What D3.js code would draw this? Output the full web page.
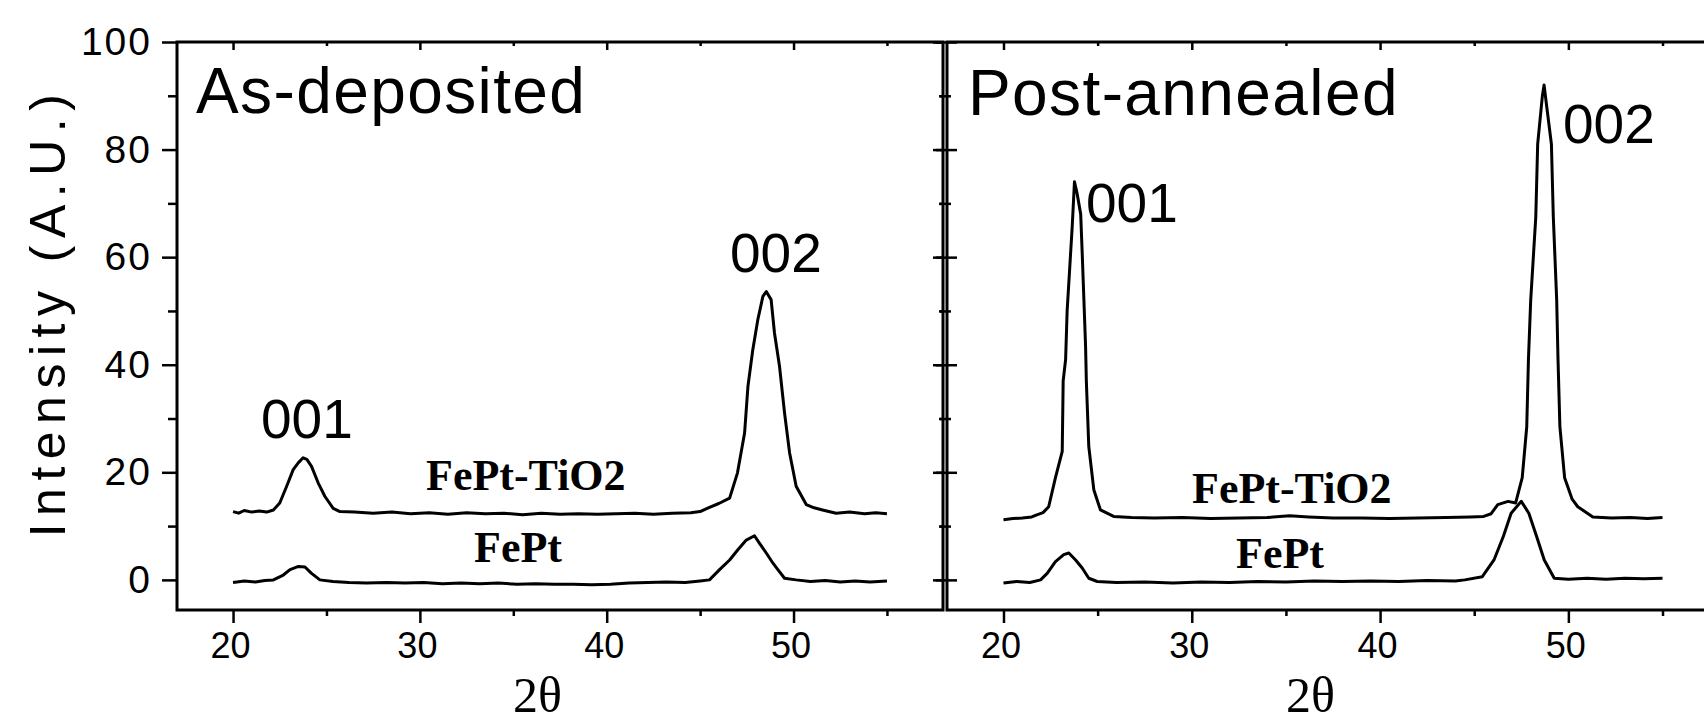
<!DOCTYPE html>
<html>
<head>
<meta charset="utf-8">
<script src="https://d3js.org/d3.v7.min.js"></script>
<style>
body { margin: 0; background: #fff; }
.axis .tick line { stroke: #000; stroke-width: 2.5; }
.frame { fill: none; stroke: #000; stroke-width: 3; }
.curve { fill: none; stroke: #000; stroke-width: 3; stroke-linejoin: round; }
</style>
</head>
<body>
<svg width="1704" height="724"></svg>
<script>

// tick values
var xMajor = [20, 30, 40, 50];
var xMinor = [25, 35, 45, 55];
var yMajor = [0, 20, 40, 60, 80, 100];
var yMinor = [10, 30, 50, 70, 90];

// 2theta, intensity
var asDepTiO2 = [[20.0,12.7],[20.3,12.4],[20.6,12.9],[21.0,12.6],[21.4,12.8],[21.8,12.6],[22.16,13.0],[22.5,14.3],[22.87,17.4],[23.22,20.5],[23.5,21.8],[23.75,22.7],[23.95,22.4],[24.2,21.1],[24.56,18.0],[24.92,15.5],[25.36,13.3],[25.72,12.7],[26.5,12.6],[27.5,12.4],[28.5,12.6],[29.5,12.3],[30.5,12.5],[31.5,12.2],[32.5,12.5],[33.5,12.3],[34.5,12.4],[35.5,12.1],[36.5,12.4],[37.5,12.2],[38.5,12.3],[39.5,12.2],[40.5,12.3],[41.5,12.4],[42.5,12.2],[43.5,12.4],[44.5,12.5],[45.0,12.7],[45.44,13.4],[46.0,14.2],[46.58,15.2],[47.0,19.9],[47.38,27.3],[47.56,36],[47.82,42.8],[48.09,48.4],[48.36,52.7],[48.54,53.6],[48.8,52.1],[48.98,45.9],[49.25,39.7],[49.52,31],[49.79,23.6],[50.14,17.4],[50.68,14],[51.1,13.4],[51.55,13],[52.28,12.4],[53,12.6],[53.8,12.3],[54.4,12.5],[55,12.3]];

var asDepFePt = [[20,-0.5],[20.6,-0.2],[21.2,-0.4],[21.7,-0.1],[22.16,0],[22.69,0.9],[23.05,1.9],[23.5,2.5],[23.85,2.4],[24.2,1.2],[24.65,0],[25.35,-0.3],[26.2,-0.5],[27.15,-0.6],[28.2,-0.5],[29.2,-0.6],[30.2,-0.5],[31.2,-0.7],[32.2,-0.6],[33.2,-0.7],[34.2,-0.6],[35.2,-0.8],[36.2,-0.7],[37.2,-0.8],[38.2,-0.8],[39.2,-0.9],[40.2,-0.8],[41.2,-0.6],[42.2,-0.5],[43.2,-0.4],[44.2,-0.5],[45.0,-0.2],[45.5,0],[46.04,1.9],[46.58,3.7],[47.02,5.6],[47.47,7.4],[47.91,8.2],[48.18,6.8],[48.54,5],[48.9,3.1],[49.16,1.9],[49.52,0.3],[50.14,0],[50.9,-0.3],[51.7,-0.1],[52.5,-0.4],[53.3,-0.2],[54.1,-0.4],[55,-0.2]];

var annTiO2 = [[20,11.2],[20.5,11.4],[21,11.5],[21.5,11.7],[21.7,12.0],[22.1,12.5],[22.4,13.6],[22.76,19],[23.12,23.9],[23.17,37],[23.3,41],[23.38,50],[23.65,65.7],[23.77,74],[23.9,72],[24.1,68],[24.18,60.8],[24.36,43.4],[24.4,37],[24.53,24.8],[24.8,16.7],[25.15,13],[25.85,11.8],[26.8,11.6],[28,11.5],[29.5,11.6],[31,11.4],[32.5,11.5],[34,11.6],[35.2,11.9],[36.2,11.7],[37.5,11.5],[39,11.5],[40.5,11.4],[42,11.5],[43.5,11.6],[44.8,11.7],[45.5,11.8],[45.9,12.3],[46.25,14.0],[46.8,14.6],[47.2,14.3],[47.55,19],[47.79,28.5],[47.88,41],[48.0,52],[48.27,67.5],[48.37,81],[48.62,90],[48.71,92],[48.85,88],[49.1,81],[49.2,67.5],[49.38,52],[49.45,41],[49.55,28.5],[49.8,19],[50.2,15],[50.5,13.6],[51.3,11.7],[52.3,11.5],[53.3,11.6],[54.2,11.4],[55,11.6]];

var annFePt = [[20,-0.6],[20.7,-0.3],[21.4,-0.5],[21.97,0],[22.32,1.2],[22.76,3.4],[23.2,4.7],[23.47,5],[23.83,3.7],[24.18,2.2],[24.53,0.3],[24.98,-0.3],[26,-0.5],[27.5,-0.4],[29,-0.6],[30.5,-0.4],[32,-0.5],[33.5,-0.3],[35,-0.4],[36.5,-0.2],[38,-0.3],[39.5,-0.2],[41,-0.3],[42.5,-0.1],[44,-0.2],[44.5,0],[45.43,0.6],[46.05,3.7],[46.55,8.1],[46.96,12.4],[47.5,14.6],[47.9,12.4],[48.31,8.1],[48.72,3.7],[49.25,0.3],[50,0.1],[51,0.3],[52,0.1],[53,0.3],[54,0.2],[55,0.3]];

var svg = d3.select("svg");

var y = d3.scaleLinear().domain([-5.6, 100]).range([610, 42]);
var xL = d3.scaleLinear().domain([17, 58]).range([177, 943]);
var xR = d3.scaleLinear().domain([17, 58]).range([947, 1719]);

var sans = "'Liberation Sans', Arial, sans-serif";
var serif = "'Liberation Serif', 'Times New Roman', serif";

function noDomain(g) { g.select(".domain").remove(); }

function drawPanel(x, series, first) {
  var x0 = x.range()[0], x1 = x.range()[1];

  svg.append("rect").attr("class", "frame")
    .attr("x", x0).attr("y", y(100))
    .attr("width", x1 - x0).attr("height", y(-5.6) - y(100));

  // bottom axis
  var gb = svg.append("g").attr("class", "axis")
    .attr("transform", "translate(0," + y(-5.6) + ")")
    .call(d3.axisBottom(x).tickValues(xMajor).tickSize(13).tickPadding(9).tickFormat(d3.format("d")))
    .call(noDomain);
  gb.selectAll("text")
    .attr("font-family", sans).attr("font-size", 36).attr("fill", "#000")
    .attr("dx", -3);
  svg.append("g").attr("class", "axis")
    .attr("transform", "translate(0," + y(-5.6) + ")")
    .call(d3.axisBottom(x).tickValues(xMinor).tickSize(6).tickFormat(""))
    .call(noDomain);

  // top axis, inward
  svg.append("g").attr("class", "axis")
    .attr("transform", "translate(0," + y(100) + ")")
    .call(d3.axisTop(x).tickValues(xMajor).tickSize(-8).tickFormat(""))
    .call(noDomain);
  svg.append("g").attr("class", "axis")
    .attr("transform", "translate(0," + y(100) + ")")
    .call(d3.axisTop(x).tickValues(xMinor).tickSize(-4).tickFormat(""))
    .call(noDomain);

  if (first) {
    var gl = svg.append("g").attr("class", "axis")
      .attr("transform", "translate(" + x0 + ",0)")
      .call(d3.axisLeft(y).tickValues(yMajor).tickSize(15).tickPadding(10).tickFormat(d3.format("d")))
      .call(noDomain);
    gl.selectAll("text")
      .attr("font-family", sans).attr("font-size", 39).attr("fill", "#000")
      .attr("letter-spacing", 2);
    svg.append("g").attr("class", "axis")
      .attr("transform", "translate(" + x0 + ",0)")
      .call(d3.axisLeft(y).tickValues(yMinor).tickSize(9).tickFormat(""))
      .call(noDomain);
    // right side of the first panel, inward
    svg.append("g").attr("class", "axis")
      .attr("transform", "translate(" + x1 + ",0)")
      .call(d3.axisRight(y).tickValues(yMajor).tickSize(-7).tickFormat(""))
      .call(noDomain);
    svg.append("g").attr("class", "axis")
      .attr("transform", "translate(" + x1 + ",0)")
      .call(d3.axisRight(y).tickValues(yMinor).tickSize(-4).tickFormat(""))
      .call(noDomain);
  } else {
    // ticks crossing the left edge of the second panel
    svg.append("g").attr("class", "axis")
      .attr("transform", "translate(" + x0 + ",0)")
      .call(d3.axisLeft(y).tickValues(yMajor).tickSize(14).tickFormat(""))
      .call(noDomain);
    svg.append("g").attr("class", "axis")
      .attr("transform", "translate(" + x0 + ",0)")
      .call(d3.axisRight(y).tickValues(yMajor).tickSize(10).tickFormat(""))
      .call(noDomain);
    svg.append("g").attr("class", "axis")
      .attr("transform", "translate(" + x0 + ",0)")
      .call(d3.axisLeft(y).tickValues(yMinor).tickSize(7).tickFormat(""))
      .call(noDomain);
    svg.append("g").attr("class", "axis")
      .attr("transform", "translate(" + x0 + ",0)")
      .call(d3.axisRight(y).tickValues(yMinor).tickSize(4).tickFormat(""))
      .call(noDomain);
  }

  var line = d3.line()
    .x(function(d) { return x(d[0]); })
    .y(function(d) { return y(d[1]); });

  svg.append("g").selectAll("path")
    .data(series)
    .enter().append("path")
    .attr("class", "curve")
    .attr("d", line);
}

drawPanel(xL, [asDepTiO2, asDepFePt], true);
drawPanel(xR, [annTiO2, annFePt], false);

// y title
svg.append("text")
  .attr("transform", "translate(65,312) rotate(-90)")
  .attr("text-anchor", "middle")
  .attr("font-family", sans).attr("font-size", 50)
  .attr("letter-spacing", 7.5)
  .text("Intensity (A.U.)");

// x titles
[xL, xR].forEach(function(x) {
  svg.append("text")
    .attr("x", x(36.3)).attr("y", 712)
    .attr("text-anchor", "middle")
    .attr("font-family", serif).attr("font-size", 50)
    .text("2\u03b8");
});

// panel titles
svg.append("text").attr("x", 196).attr("y", 113)
  .attr("font-family", sans).attr("font-size", 64).attr("letter-spacing", 1.4)
  .text("As-deposited");
svg.append("text").attr("x", 968).attr("y", 115)
  .attr("font-family", sans).attr("font-size", 64).attr("letter-spacing", 1.4)
  .text("Post-annealed");

// peak labels
var peaks = [
  {t: "001", x: 261, y: 438},
  {t: "002", x: 730, y: 272},
  {t: "001", x: 1086, y: 222},
  {t: "002", x: 1563, y: 143}
];
svg.append("g").selectAll("text")
  .data(peaks).enter().append("text")
  .attr("x", function(d) { return d.x; })
  .attr("y", function(d) { return d.y; })
  .attr("font-family", sans).attr("font-size", 55)
  .text(function(d) { return d.t; });

// sample labels
var samples = [
  {t: "FePt-TiO2", x: 426, y: 490},
  {t: "FePt", x: 474, y: 562},
  {t: "FePt-TiO2", x: 1192, y: 503},
  {t: "FePt", x: 1236, y: 568}
];
svg.append("g").selectAll("text")
  .data(samples).enter().append("text")
  .attr("x", function(d) { return d.x; })
  .attr("y", function(d) { return d.y; })
  .attr("font-family", serif).attr("font-size", 44).attr("font-weight", "bold")
  .text(function(d) { return d.t; });

</script>
</body>
</html>
